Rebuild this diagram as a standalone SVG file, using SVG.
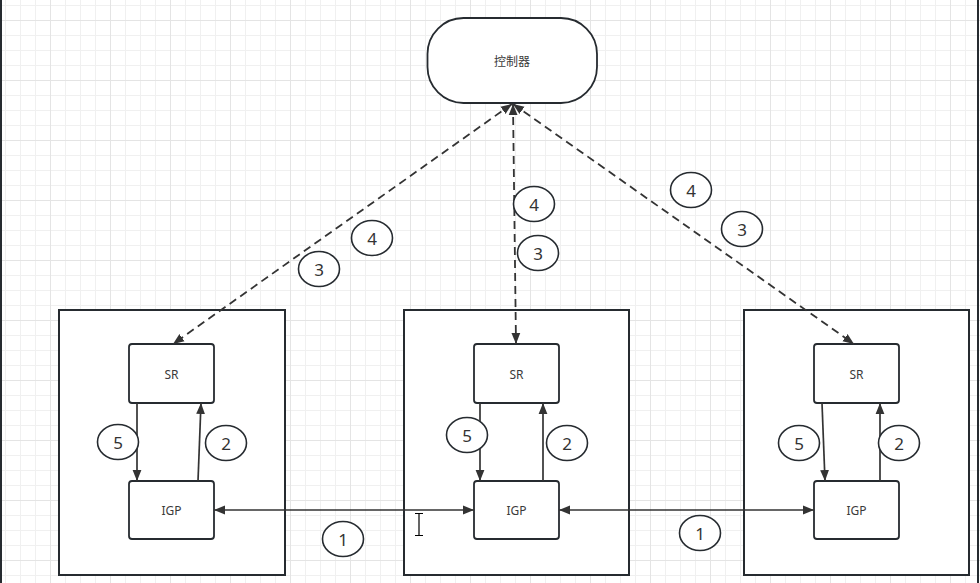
<svg xmlns="http://www.w3.org/2000/svg" width="980" height="583" viewBox="0 0 980 583">
<style>
.box{fill:#fff;stroke:#262b30;stroke-width:2}
.node{fill:#fff;stroke:#262b30;stroke-width:1.8}
.lbl{font-family:"Noto Sans","Noto Sans CJK SC",sans-serif;font-size:12px;fill:#3a3a3a;text-anchor:middle;dominant-baseline:central}
.num{font-family:"Noto Sans",sans-serif;font-size:17px;fill:#333;text-anchor:middle;dominant-baseline:central}
.ell{fill:#fff;stroke:#262b30;stroke-width:1.6}
.ln{fill:none;stroke:#333;stroke-width:1.7}
.dash{fill:none;stroke:#333;stroke-width:1.8;stroke-dasharray:8 5}
</style>
<defs>
<pattern id="gmin" patternUnits="userSpaceOnUse" x="5" y="5" width="15" height="15">
<path d="M0 0.5H15M0.5 0V15" stroke="#f0f0f0" stroke-width="1"/>
</pattern>
<pattern id="gmaj" patternUnits="userSpaceOnUse" x="50" y="20" width="60" height="60">
<path d="M0 0.5H60M0.5 0V60" stroke="#e4e4e4" stroke-width="1"/>
</pattern>
<marker id="ahb" viewBox="0 0 10 10" refX="10" refY="5" markerWidth="11" markerHeight="11" orient="auto-start-reverse" markerUnits="userSpaceOnUse">
<path d="M0 1L10 5L0 9z" fill="#333"/>
</marker>
</defs>
<rect width="980" height="583" fill="#fff"/>
<rect width="980" height="583" fill="url(#gmin)"/>
<rect width="980" height="583" fill="url(#gmaj)"/>
<line x1="1" y1="0" x2="1" y2="583" stroke="#262b30" stroke-width="2"/>
<line x1="978" y1="0" x2="978" y2="583" stroke="#262b30" stroke-width="2"/>

<g id="controller">
<rect x="427.5" y="18" width="169.5" height="85" rx="36" ry="36" class="node" stroke-width="2"/>
<text x="512" y="61" class="lbl">控制器</text>
</g>

<g id="device-left">
<rect x="59" y="310" width="226" height="265" class="box"/>
<rect x="129" y="344" width="85" height="59" rx="3" class="node"/>
<text x="171.5" y="374" class="lbl">SR</text>
<rect x="129" y="481" width="85" height="58" rx="3" class="node"/>
<text x="171.5" y="510" class="lbl">IGP</text>
</g>
<g id="device-mid">
<rect x="404" y="310" width="225" height="265" class="box"/>
<rect x="474" y="344" width="85" height="59" rx="3" class="node"/>
<text x="516.5" y="374" class="lbl">SR</text>
<rect x="474" y="481" width="85" height="58" rx="3" class="node"/>
<text x="516.5" y="510" class="lbl">IGP</text>
</g>
<g id="device-right">
<rect x="744" y="310" width="225" height="265" class="box"/>
<rect x="814" y="344" width="85" height="59" rx="3" class="node"/>
<text x="856.5" y="374" class="lbl">SR</text>
<rect x="814" y="481" width="85" height="58" rx="3" class="node"/>
<text x="856.5" y="510" class="lbl">IGP</text>
</g>

<g id="connectors">
<line x1="512" y1="104" x2="173" y2="344" class="dash" marker-start="url(#ahb)" marker-end="url(#ahb)"/>
<line x1="513" y1="104" x2="516" y2="344" class="dash" marker-start="url(#ahb)" marker-end="url(#ahb)"/>
<line x1="513" y1="104" x2="854" y2="344" class="dash" marker-start="url(#ahb)" marker-end="url(#ahb)"/>
<line x1="137" y1="403" x2="137" y2="481" class="ln" marker-end="url(#ahb)"/>
<line x1="198" y1="481" x2="201" y2="403" class="ln" marker-end="url(#ahb)"/>
<line x1="480" y1="403" x2="480" y2="481" class="ln" marker-end="url(#ahb)"/>
<line x1="543" y1="481" x2="543" y2="403" class="ln" marker-end="url(#ahb)"/>
<line x1="822" y1="403" x2="825" y2="481" class="ln" marker-end="url(#ahb)"/>
<line x1="880" y1="481" x2="880" y2="403" class="ln" marker-end="url(#ahb)"/>
<line x1="214" y1="510" x2="474" y2="510" class="ln" marker-start="url(#ahb)" marker-end="url(#ahb)"/>
<line x1="559" y1="510" x2="814" y2="510" class="ln" marker-start="url(#ahb)" marker-end="url(#ahb)"/>
</g>

<g id="labels">
<ellipse cx="372" cy="238" rx="20.5" ry="17.5" class="ell"/><text x="372" y="238" class="num">4</text>
<ellipse cx="319" cy="269" rx="20.5" ry="17.5" class="ell"/><text x="319" y="269" class="num">3</text>
<ellipse cx="534" cy="204" rx="20.5" ry="17.5" class="ell"/><text x="534" y="204" class="num">4</text>
<ellipse cx="538" cy="253" rx="20.5" ry="17.5" class="ell"/><text x="538" y="253" class="num">3</text>
<ellipse cx="691" cy="190" rx="20.5" ry="17.5" class="ell"/><text x="691" y="190" class="num">4</text>
<ellipse cx="742" cy="229" rx="20.5" ry="17.5" class="ell"/><text x="742" y="229" class="num">3</text>
<ellipse cx="118" cy="442" rx="20.5" ry="17.5" class="ell"/><text x="118" y="442" class="num">5</text>
<ellipse cx="226" cy="443" rx="20.5" ry="17.5" class="ell"/><text x="226" y="443" class="num">2</text>
<ellipse cx="467" cy="435" rx="20.5" ry="17.5" class="ell"/><text x="467" y="435" class="num">5</text>
<ellipse cx="567" cy="443" rx="20.5" ry="17.5" class="ell"/><text x="567" y="443" class="num">2</text>
<ellipse cx="799" cy="443" rx="20.5" ry="17.5" class="ell"/><text x="799" y="443" class="num">5</text>
<ellipse cx="899" cy="443" rx="20.5" ry="17.5" class="ell"/><text x="899" y="443" class="num">2</text>
<ellipse cx="343" cy="539" rx="20.5" ry="17.5" class="ell"/><text x="343" y="539" class="num">1</text>
<ellipse cx="700" cy="533" rx="20.5" ry="17.5" class="ell"/><text x="700" y="533" class="num">1</text>
</g>

<path d="M415 513.5H423M419 513.5V535.5M415 535.5H423" stroke="#000" stroke-width="1.2" fill="none"/>
</svg>
